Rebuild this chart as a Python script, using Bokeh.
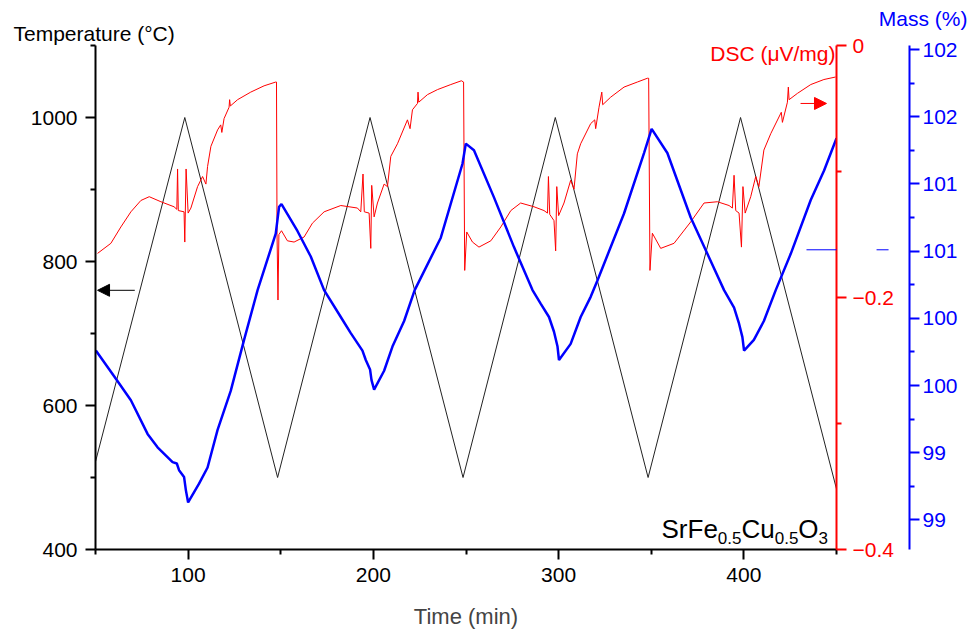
from bokeh.plotting import figure
from bokeh.models import Range1d, LinearAxis, FixedTicker, Label, Arrow, NormalHead, Title
from bokeh.embed import file_html
from bokeh.resources import INLINE

# ---------------- data ----------------
time_ticks = [100, 200, 300, 400]
time_minor = [50, 150, 250, 350, 450]
temp_ticks = [400, 600, 800, 1000]
temp_minor = [500, 700, 900, 1100]
dsc_ticks = [-0.4, -0.2, 0.0]
dsc_minor = [-0.3, -0.1]
dsc_tick_labels = ["\u22120.4", "\u22120.2", "0"]
mass_ticks = [98.5, 99.0, 99.5, 100.0, 100.5, 101.0, 101.5, 102.0]
mass_minor = [98.25, 98.75, 99.25, 99.75, 100.25, 100.75, 101.25, 101.75]
mass_tick_labels = ["99", "99", "100", "100", "101", "101", "102", "102"]

temp_time = [50.0, 98.2, 148.3, 198.2, 248.4, 298.2, 348.3, 398.2, 450.0]
temp_vals = [522, 1000, 500, 1000, 500, 1000, 500, 1000, 484]

mass_time = [50.2, 61.0, 69.1, 78.1, 83.5, 91.6, 93.9, 95.1, 97.8, 98.8, 100.0,
             105.9, 110.5, 115.9, 123.0, 130.2, 137.5, 147.3, 149.1, 150.4, 159.0,
             166.2, 173.4, 182.4, 187.8, 194.1, 195.9, 198.2, 199.0, 200.4, 205.8,
             210.3, 216.6, 222.3, 236.4, 248.1, 249.9, 254.3, 265.1, 275.9, 285.9,
             290.3, 294.8, 297.5, 299.4, 300.2, 306.5, 311.9, 317.3, 320.9, 335.3,
             346.1, 350.2, 358.7, 371.3, 380.3, 389.3, 394.7, 397.4, 399.2, 400.1,
             405.4, 410.8, 417.2, 425.3, 436.1, 443.3, 450.0]
mass_vals = [99.76, 99.55, 99.39, 99.14, 99.04, 98.93, 98.92, 98.87, 98.82, 98.72, 98.63,
             98.77, 98.89, 99.17, 99.46, 99.84, 100.21, 100.63, 100.83, 100.85, 100.65,
             100.46, 100.21, 100.01, 99.89, 99.76, 99.69, 99.62, 99.54, 99.47, 99.61,
             99.79, 99.98, 100.21, 100.60, 101.15, 101.30, 101.25, 100.90, 100.53, 100.21,
             100.11, 100.01, 99.90, 99.79, 99.69, 99.81, 100.01, 100.16, 100.28, 100.78,
             101.23, 101.41, 101.23, 100.75, 100.48, 100.21, 100.08, 99.96, 99.86, 99.76,
             99.84, 99.98, 100.21, 100.48, 100.88, 101.10, 101.34]

dsc_time = [51.1, 58.3, 63.7, 69.1, 74.5, 79.0, 85.3, 92.4, 93.9, 94.3, 94.7,
            97.8, 98.2, 98.9, 100.0, 101.5, 105.1, 107.8, 109.6, 110.5, 112.3,
            115.9, 117.6, 118.2, 119.4, 122.1, 122.4, 122.8, 126.7, 133.8, 141.0,
            147.3, 147.7, 148.0, 148.5, 149.0, 150.4, 153.6, 157.2, 162.6, 167.1,
            173.4, 182.4, 191.4, 193.2, 194.4, 195.1, 197.7, 198.6, 199.1, 200.4,
            202.2, 205.8, 207.6, 209.4, 213.0, 218.4, 219.8, 221.1, 223.8, 224.1,
            224.5, 229.2, 234.6, 241.8, 247.5, 248.7, 249.3, 250.4, 253.5, 257.0,
            263.4, 268.8, 274.2, 279.5, 286.7, 292.1, 294.0, 294.5, 295.2, 297.5,
            298.4, 299.0, 300.0, 302.9, 306.5, 308.3, 310.1, 311.9, 317.3, 319.5,
            320.0, 321.8, 323.3, 323.8, 328.1, 335.3, 342.5, 347.9, 348.6, 349.3,
            350.6, 355.1, 362.3, 371.3, 378.5, 385.7, 392.0, 393.8, 394.7, 395.6,
            397.4, 398.7, 399.5, 400.7, 403.7, 406.4, 408.1, 410.8, 414.5, 420.2,
            420.8, 423.5, 424.0, 424.4, 428.9, 436.1, 443.2, 449.5]
dsc_vals = [-0.165, -0.157, -0.144, -0.132, -0.123, -0.120, -0.124, -0.128, -0.130, -0.098, -0.131,
            -0.132, -0.156, -0.098, -0.133, -0.129, -0.112, -0.104, -0.110, -0.096, -0.080,
            -0.067, -0.063, -0.069, -0.058, -0.049, -0.043, -0.048, -0.043, -0.037, -0.032,
            -0.029, -0.029, -0.150, -0.202, -0.150, -0.147, -0.155, -0.156, -0.152, -0.141,
            -0.132, -0.127, -0.129, -0.132, -0.102, -0.132, -0.133, -0.161, -0.111, -0.136,
            -0.125, -0.110, -0.112, -0.088, -0.078, -0.059, -0.066, -0.051, -0.046, -0.037,
            -0.045, -0.039, -0.035, -0.031, -0.028, -0.029, -0.1785, -0.148, -0.156, -0.160,
            -0.155, -0.144, -0.131, -0.125, -0.128, -0.131, -0.133, -0.104, -0.134, -0.139,
            -0.163, -0.112, -0.135, -0.125, -0.107, -0.114, -0.086, -0.078, -0.062, -0.059,
            -0.066, -0.049, -0.037, -0.047, -0.041, -0.033, -0.029, -0.026, -0.026, -0.1785,
            -0.149, -0.161, -0.157, -0.140, -0.125, -0.124, -0.127, -0.129, -0.103, -0.131,
            -0.133, -0.160, -0.112, -0.133, -0.120, -0.104, -0.112, -0.083, -0.070, -0.053,
            -0.061, -0.045, -0.033, -0.043, -0.038, -0.031, -0.027, -0.025]

# arrows: (x_start, x_end, y)
temp_arrow = (71.2, 51.1, 760)
dsc_arrow = (430.6, 444.6, -0.046)
mass_arrow = (433.8, 478.1, 100.51)

FONT = "Liberation Sans"
RED = "#FF0000"
BLUE = "#0000FF"

p = figure(width=976, height=634, x_range=Range1d(50, 450), y_range=Range1d(400, 1100),
           output_backend="svg", toolbar_location=None,
           min_border_left=95, min_border_right=140, min_border_top=45, min_border_bottom=85)
p.extra_y_ranges = {"dsc": Range1d(-0.4, 0.0), "mass": Range1d(98.28, 102.03)}
p.outline_line_color = None
p.grid.visible = False
p.background_fill_color = "white"
p.border_fill_color = "white"


def style_axis(ax, color, ticks, minor, labels=None, standoff=7):
    ax.ticker = FixedTicker(ticks=ticks, minor_ticks=minor)
    ax.axis_line_color = color
    ax.axis_line_width = 2
    ax.major_tick_line_color = color
    ax.major_tick_line_width = 2
    ax.major_tick_out = 10
    ax.major_tick_in = 0
    ax.minor_tick_line_color = color
    ax.minor_tick_line_width = 2
    ax.minor_tick_out = 5
    ax.minor_tick_in = 0
    ax.major_label_text_color = color
    ax.major_label_text_font = FONT
    ax.major_label_text_font_size = "21px"
    ax.major_label_standoff = standoff
    if labels is not None:
        ax.major_label_overrides = {t: l for t, l in zip(ticks, labels)}


style_axis(p.xaxis[0], "black", time_ticks, time_minor, standoff=8)
p.xaxis[0].axis_label = "Time (min)"
p.xaxis[0].axis_label_text_font = FONT
p.xaxis[0].axis_label_text_font_size = "22px"
p.xaxis[0].axis_label_text_font_style = "normal"
p.xaxis[0].axis_label_standoff = 19
style_axis(p.yaxis[0], "black", temp_ticks, temp_minor, standoff=8)

dsc_axis = LinearAxis(y_range_name="dsc")
style_axis(dsc_axis, RED, dsc_ticks, dsc_minor, dsc_tick_labels, standoff=6)
dsc_axis.axis_label = " "
dsc_axis.axis_label_text_font_size = "7px"
dsc_axis.axis_label_standoff = 3
p.add_layout(dsc_axis, "right")

mass_axis = LinearAxis(y_range_name="mass")
style_axis(mass_axis, BLUE, mass_ticks, mass_minor, mass_tick_labels, standoff=3)
p.add_layout(mass_axis, "right")

# curves
p.line(temp_time, temp_vals, line_color="#222222", line_width=1)
p.line(dsc_time, dsc_vals, line_color=RED, line_width=1, y_range_name="dsc")
p.line(mass_time, mass_vals, line_color=BLUE, line_width=2.5, y_range_name="mass")

# arrows
p.add_layout(Arrow(end=NormalHead(size=12, fill_color="black", line_color="black", line_width=1),
                   x_start=temp_arrow[0], x_end=temp_arrow[1], y_start=temp_arrow[2], y_end=temp_arrow[2],
                   line_color="black", line_width=1))
p.add_layout(Arrow(end=NormalHead(size=12, fill_color=RED, line_color=RED, line_width=1),
                   x_start=dsc_arrow[0], x_end=dsc_arrow[1], y_start=dsc_arrow[2], y_end=dsc_arrow[2],
                   line_color=RED, line_width=1, y_range_name="dsc"))
p.add_layout(Arrow(end=NormalHead(size=12, fill_color=BLUE, line_color=BLUE, line_width=1),
                   x_start=mass_arrow[0], x_end=mass_arrow[1], y_start=mass_arrow[2], y_end=mass_arrow[2],
                   line_color=BLUE, line_width=1, y_range_name="mass"))

# texts above the frame
p.add_layout(Title(text="Temperature (\u00b0C)", align="left", offset=-82, standoff=0,
                   vertical_align="middle", text_font=FONT, text_font_size="21px",
                   text_font_style="normal", text_color="black"), "above")
p.add_layout(Title(text="Mass (%)", align="right", offset=-131, standoff=-28,
                   vertical_align="top", text_font=FONT, text_font_size="21px",
                   text_font_style="normal", text_color=BLUE), "above")


def add_label(text, x, y, color="black", size="21px", align="left", baseline="middle"):
    p.add_layout(Label(x=x, y=y, x_units="screen", y_units="screen", text=text,
                       text_color=color, text_font=FONT, text_font_size=size,
                       text_align=align, text_baseline=baseline))


add_label("DSC (\u03bcV/mg)", 740, 496, color=RED, align="right")

# formula with subscripts
W = {"S": .667, "r": .333, "F": .611, "e": .556, "C": .722, "u": .556, "O": .778,
     "0": .556, ".": .278, "5": .556, "3": .556}
pieces = [("SrFe", False), ("0.5", True), ("Cu", False), ("0.5", True), ("O", False), ("3", True)]
xcur = 566.0
for txt, sub in pieces:
    size = 17 if sub else 26
    add_label(txt, xcur, 12 if sub else 21, size=f"{size}px", baseline="alphabetic")
    xcur += sum(W[c] for c in txt) * size

open("out.html", "w").write(file_html(p, INLINE))
